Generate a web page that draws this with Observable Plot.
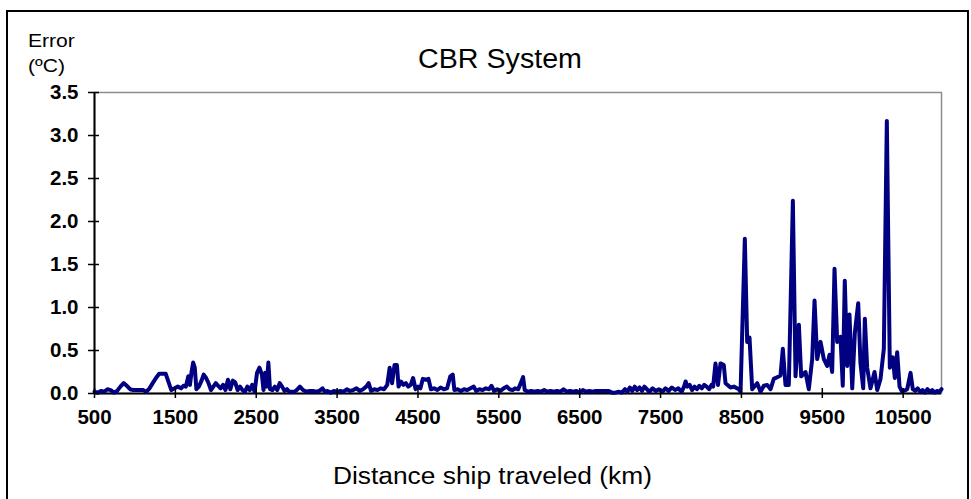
<!DOCTYPE html>
<html><head><meta charset="utf-8">
<script src="https://cdn.jsdelivr.net/npm/d3@7"></script>
<script src="https://cdn.jsdelivr.net/npm/@observablehq/plot@0.6"></script>
<style>
body{margin:0;background:#fff;}
#wrap{position:relative;width:971px;height:499px;overflow:hidden;font-family:Arial,"Liberation Sans",sans-serif;background:#fff;}
#chart{position:absolute;left:0;top:0;}
#border{position:absolute;left:6px;top:10px;width:963px;height:600px;border:2px solid #000;box-sizing:border-box;}
.t{position:absolute;white-space:nowrap;color:#000;}
</style></head><body>
<div id="wrap">
<div id="chart"></div>
<div id="border"></div>
<div class="t" id="title" style="left:500px;top:46px;font-size:27px;line-height:27px;transform:translateX(-50%) scaleX(1.06);">CBR System</div>
<div class="t" style="left:28px;top:32px;font-size:18.5px;line-height:18.5px;transform-origin:left;transform:scaleX(1.14);">Error</div>
<div class="t" style="left:28px;top:57px;font-size:18.5px;line-height:18.5px;transform-origin:left;transform:scaleX(1.14);">(ºC)</div>
<div class="t" style="left:333px;top:465px;font-size:23.3px;line-height:23.3px;transform-origin:left;transform:scaleX(1.13);">Distance ship traveled (km)</div>
</div>
<script>
const distanceKm = [
500,540,580,620,660,700,740,780,820,860,900,940,980,1020,1060,1100,1140,1180,1220,1260,
1300,1340,1380,1420,1450,1490,1530,1570,1600,1630,1660,1680,1700,1720,1740,1760,1790,1820,1850,1880,
1910,1940,1970,2000,2030,2060,2090,2120,2150,2180,2210,2240,2270,2300,2330,2360,2390,2420,2450,2480,
2510,2540,2570,2590,2610,2630,2650,2670,2700,2730,2760,2790,2820,2850,2880,2910,2940,2970,3000,3040,
3080,3120,3160,3200,3240,3280,3320,3350,3380,3420,3460,3500,3540,3580,3620,3660,3700,3740,3780,3820,
3860,3890,3920,3960,4000,4040,4080,4120,4150,4180,4210,4240,4260,4290,4320,4350,4380,4410,4440,4470,
4500,4530,4560,4600,4630,4660,4700,4740,4780,4820,4860,4900,4930,4950,4990,5030,5070,5110,5150,5190,
5220,5260,5300,5340,5380,5410,5440,5480,5520,5560,5600,5630,5670,5700,5740,5770,5800,5820,5860,5900,
5940,5980,6020,6060,6100,6140,6180,6220,6260,6300,6340,6380,6420,6460,6500,6540,6580,6620,6660,6700,
6740,6780,6820,6860,6900,6940,6980,7020,7060,7090,7120,7150,7180,7210,7240,7270,7300,7330,7360,7400,
7440,7480,7520,7560,7600,7640,7680,7720,7760,7790,7810,7830,7860,7890,7920,7950,7980,8010,8040,8070,
8100,8130,8150,8179,8210,8241,8282,8303,8365,8406,8468,8489,8542,8571,8600,8633,8695,8736,8777,8819,
8860,8900,8942,8983,9012,9045,9086,9136,9169,9210,9239,9292,9333,9375,9404,9437,9478,9519,9560,9589,
9622,9651,9684,9725,9753,9778,9808,9836,9870,9902,9944,9972,10006,10026,10055,10096,10146,10179,10220,10261,
10298,10335,10372,10397,10426,10455,10488,10550,10591,10619,10650,10680,10710,10740,10770,10800,10830,10860,10890,10920,
10950,10974
];
const errorC = [
0.02,0.01,0.03,0.02,0.05,0.04,0.01,0.03,0.08,0.12,0.09,0.05,0.04,0.04,0.04,0.04,0.02,0.06,0.12,0.18,
0.23,0.23,0.23,0.12,0.04,0.06,0.08,0.06,0.09,0.08,0.20,0.10,0.25,0.36,0.30,0.05,0.08,0.14,0.22,0.18,
0.12,0.04,0.08,0.12,0.09,0.06,0.10,0.04,0.16,0.05,0.15,0.13,0.04,0.08,0.04,0.02,0.08,0.04,0.10,0.02,
0.24,0.30,0.22,0.04,0.24,0.08,0.36,0.05,0.04,0.08,0.04,0.12,0.08,0.03,0.05,0.02,0.02,0.02,0.04,0.08,
0.04,0.02,0.03,0.03,0.02,0.03,0.06,0.02,0.03,0.01,0.03,0.02,0.03,0.02,0.05,0.03,0.04,0.06,0.03,0.05,
0.08,0.12,0.03,0.05,0.04,0.06,0.05,0.10,0.30,0.12,0.33,0.33,0.08,0.14,0.10,0.12,0.08,0.10,0.18,0.05,
0.08,0.06,0.17,0.16,0.17,0.05,0.06,0.04,0.07,0.05,0.06,0.20,0.22,0.04,0.05,0.03,0.05,0.04,0.06,0.08,
0.03,0.05,0.04,0.06,0.05,0.09,0.03,0.05,0.03,0.06,0.08,0.05,0.04,0.06,0.05,0.12,0.19,0.04,0.02,0.03,
0.02,0.03,0.02,0.04,0.02,0.03,0.02,0.03,0.02,0.05,0.02,0.03,0.02,0.03,0.01,0.04,0.02,0.03,0.02,0.03,
0.03,0.03,0.03,0.03,0.01,0.01,0.02,0.01,0.05,0.02,0.07,0.03,0.08,0.04,0.07,0.03,0.08,0.05,0.02,0.06,
0.03,0.05,0.02,0.06,0.03,0.07,0.04,0.06,0.02,0.08,0.14,0.08,0.10,0.04,0.08,0.05,0.09,0.06,0.10,0.08,
0.05,0.10,0.08,0.35,0.10,0.35,0.33,0.12,0.07,0.08,0.05,0.02,1.80,0.60,0.65,0.05,0.12,0.02,0.09,0.10,
0.05,0.17,0.19,0.21,0.52,0.10,0.10,2.24,0.20,0.80,0.20,0.25,0.05,0.40,1.08,0.40,0.60,0.40,0.32,0.45,
0.25,1.45,0.60,0.66,0.09,1.31,0.32,0.92,0.06,0.70,1.05,0.35,0.06,0.87,0.30,0.06,0.25,0.04,0.17,0.52,
3.17,0.30,0.42,0.18,0.48,0.08,0.02,0.05,0.24,0.05,0.03,0.06,0.02,0.04,0.01,0.05,0.02,0.04,0.01,0.03,
0.02,0.05
];
const xTicks = [500,1500,2500,3500,4500,5500,6500,7500,8500,9500,10500];
const yTicks = [0,0.5,1,1.5,2,2.5,3,3.5];

const data = distanceKm.map((km, i) => ({km, err: errorC[i]}));
const hasAxisMarks = typeof Plot.axisY === "function";

const baseMarks = [
  Plot.frame({stroke: "#8c8c8c", strokeWidth: 1.5}),
  Plot.ruleX([500], {stroke: "#000", strokeWidth: 2}),
  Plot.ruleY([0], {stroke: "#000", strokeWidth: 2}),
  Plot.line(data, {x: "km", y: "err", stroke: "#000080", strokeWidth: 4, strokeLinejoin: "round", strokeLinecap: "round"})
];
const axisMarks = hasAxisMarks ? [
  Plot.axisY(yTicks, {anchor: "left", tickSize: 11, dx: 5, tickFormat: () => "", stroke: "#000", strokeWidth: 1.5, label: null}),
  Plot.axisY(yTicks, {anchor: "left", tickSize: 0, tickPadding: 16, tickFormat: d => d.toFixed(1), fill: "#000", label: null}),
  Plot.axisX(xTicks, {anchor: "bottom", tickSize: 10, dy: -5, tickFormat: () => "", stroke: "#000", strokeWidth: 1.5, label: null}),
  Plot.axisX(xTicks, {anchor: "bottom", tickSize: 0, tickPadding: 16, tickFormat: d => String(d), fill: "#000", label: null})
] : [];

const chart = Plot.plot({
  width: 971, height: 499,
  marginLeft: 94, marginRight: 30, marginTop: 92, marginBottom: 106,
  x: hasAxisMarks ? {domain: [500, 10974], label: null, axis: null}
                  : {domain: [500, 10974], label: null, ticks: xTicks, tickSize: 5, tickPadding: 12, tickFormat: d => String(d)},
  y: hasAxisMarks ? {domain: [0, 3.5], label: null, axis: null}
                  : {domain: [0, 3.5], label: null, ticks: yTicks, tickSize: 6, tickPadding: 10, tickFormat: d => d.toFixed(1)},
  style: {fontFamily: 'Arial, "Liberation Sans", sans-serif', fontWeight: "bold", color: "#000", background: "transparent"},
  marks: [...baseMarks, ...axisMarks]
});
const s = d3.select(chart);
if (!hasAxisMarks) {
  s.selectAll('[aria-label="y-axis"] .tick line').attr("x1", 5).attr("stroke-width", 1.5);
  s.selectAll('[aria-label="x-axis"] .tick line').attr("y1", -5).attr("stroke-width", 1.5);
  s.selectAll('[aria-label="x-axis"] .domain, [aria-label="y-axis"] .domain').remove();
}
s.selectAll("text").style("font-size", "20.5px").style("font-weight", "bold").style("font-family", 'Arial, "Liberation Sans", sans-serif');
document.getElementById("chart").appendChild(chart);
</script>
</body></html>
